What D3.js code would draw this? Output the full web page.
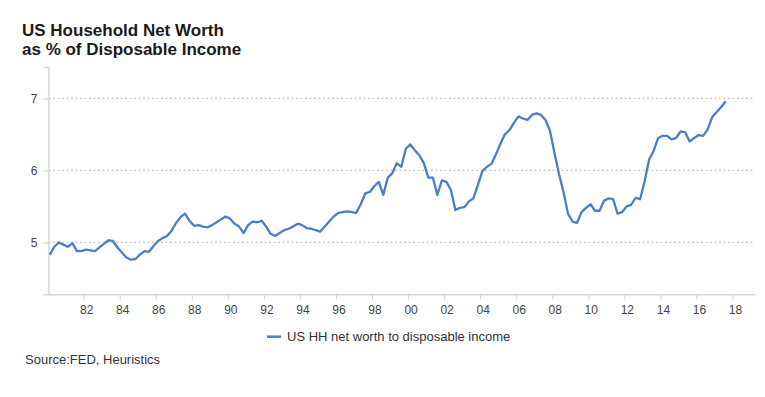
<!DOCTYPE html>
<html>
<head>
<meta charset="utf-8">
<script src="https://cdn.jsdelivr.net/npm/d3@7"></script>
<style>
body { margin: 0; background: #fff; }
</style>
</head>
<body>
<script>
// quarterly values, 1980 Q1 .. 2017 Q3
var startYear = 1980
var values = [
  4.83, 4.94, 5.00, 4.97,
  4.94, 4.99, 4.88, 4.88,
  4.90, 4.89, 4.88, 4.93,
  4.98, 5.03, 5.02, 4.93,
  4.86, 4.79, 4.76, 4.77,
  4.83, 4.88, 4.87, 4.95,
  5.02, 5.06, 5.09, 5.16,
  5.27, 5.35, 5.40, 5.30,
  5.23, 5.24, 5.22, 5.21,
  5.24, 5.28, 5.32, 5.36,
  5.33, 5.26, 5.22, 5.13,
  5.24, 5.29, 5.28, 5.30,
  5.22, 5.12, 5.09, 5.13,
  5.17, 5.19, 5.22, 5.26,
  5.24, 5.20, 5.19, 5.17,
  5.15, 5.22, 5.29, 5.36,
  5.41, 5.42, 5.43, 5.42,
  5.41, 5.53, 5.68, 5.70,
  5.78, 5.84, 5.66, 5.90,
  5.96, 6.10, 6.05, 6.30,
  6.36, 6.28, 6.21, 6.10,
  5.90, 5.90, 5.66, 5.86,
  5.84, 5.73, 5.45, 5.48,
  5.49, 5.57, 5.61, 5.80,
  5.99, 6.05, 6.09, 6.22,
  6.37, 6.50, 6.56, 6.66,
  6.75, 6.72, 6.70, 6.77,
  6.79, 6.77, 6.70, 6.55,
  6.24, 5.95, 5.70, 5.40,
  5.29, 5.27, 5.42, 5.48,
  5.53, 5.44, 5.44, 5.58,
  5.61, 5.60, 5.40, 5.42,
  5.50, 5.52, 5.62, 5.60,
  5.85, 6.15, 6.27, 6.45,
  6.48, 6.48, 6.43, 6.45,
  6.54, 6.53, 6.40, 6.45,
  6.49, 6.48, 6.57, 6.74,
  6.81, 6.88, 6.96
]
var yTicks = [5, 6, 7]
var xTicks = [1982, 1984, 1986, 1988, 1990, 1992, 1994, 1996, 1998, 2000, 2002, 2004, 2006, 2008, 2010, 2012, 2014, 2016, 2018]
var titleLines = ["US Household Net Worth", "as % of Disposable Income"]
var seriesName = "US HH net worth to disposable income"

var data = values.map(function(v, i) {
  return { t: startYear + Math.floor(i / 4) + (i % 4) / 4 + 0.125, v: v }
})

var width = 765, height = 397
var svg = d3.select("body").append("svg").attr("width", width).attr("height", height)

var x = d3.scaleLinear().domain([1980.05, 2019.25]).range([48.5, 755])
var y = d3.scaleLinear().domain([4.28, 7.435]).range([294.3, 67])

// title, one text with two lines
var title = svg.append("text").attr("x", 22).attr("y", 35.5)
  .style("font-family", "'Liberation Sans', Arial, sans-serif").style("font-weight", 700).style("font-size", "17px")
  .attr("fill", "#1a1a1a")
title.selectAll("tspan").data(titleLines).join("tspan")
  .attr("x", 22).attr("dy", function(d, i) { return i ? 19.5 : 0 })
  .text(function(d) { return d })

// gridlines
svg.append("g").selectAll("line").data(yTicks).join("line")
  .attr("x1", x.range()[0]).attr("x2", x.range()[1])
  .attr("y1", function(d) { return y(d) }).attr("y2", function(d) { return y(d) })
  .attr("stroke", "#c8c8c8").attr("stroke-width", 1.3).attr("stroke-dasharray", "2,2.5")

// y axis
var yAxis = svg.append("g").attr("transform", "translate(48.5,0)")
  .call(d3.axisLeft(y).tickValues(yTicks).tickSize(5).tickPadding(6).tickFormat(d3.format("d")))
yAxis.select(".domain").attr("stroke", "#d6d6d6").attr("stroke-width", 1.5)
yAxis.selectAll(".tick line").attr("stroke", "#c8c8c8")
yAxis.selectAll("text").attr("fill", "#444").style("font-family", "'Liberation Sans', Arial, sans-serif").style("font-size", "12px")

// x axis
var xAxis = svg.append("g").attr("transform", "translate(0,294.3)")
  .call(d3.axisBottom(x).tickValues(xTicks).tickSize(5).tickPadding(6).tickSizeOuter(0)
    .tickFormat(function(d) { return String(d).slice(2) }))
xAxis.select(".domain").attr("stroke", "#d6d6d6").attr("stroke-width", 1.5)
xAxis.selectAll(".tick line").attr("stroke", "#d0d0d0")
xAxis.selectAll("text").attr("fill", "#444").attr("dx", 2.5)
  .style("font-family", "'Liberation Sans', Arial, sans-serif").style("font-size", "12px")

// the line
var line = d3.line().x(function(d) { return x(d.t) }).y(function(d) { return y(d.v) })
svg.append("path").datum(data).attr("d", line)
  .attr("fill", "none").attr("stroke", "#4a7fc4").attr("stroke-width", 2.3).attr("stroke-linejoin", "round")

// legend
svg.append("line").attr("x1", 267).attr("x2", 281).attr("y1", 336.7).attr("y2", 336.7)
  .attr("stroke", "#4a7fc4").attr("stroke-width", 2.5)
svg.append("text").attr("x", 287).attr("y", 341)
  .style("font-family", "'Liberation Sans', Arial, sans-serif").style("font-size", "13px")
  .attr("fill", "#333").text(seriesName)

// source
svg.append("text").attr("x", 25).attr("y", 364)
  .style("font-family", "'Liberation Sans', Arial, sans-serif").style("font-size", "13px")
  .attr("fill", "#333").text("Source:FED, Heuristics")
</script>
</body>
</html>
